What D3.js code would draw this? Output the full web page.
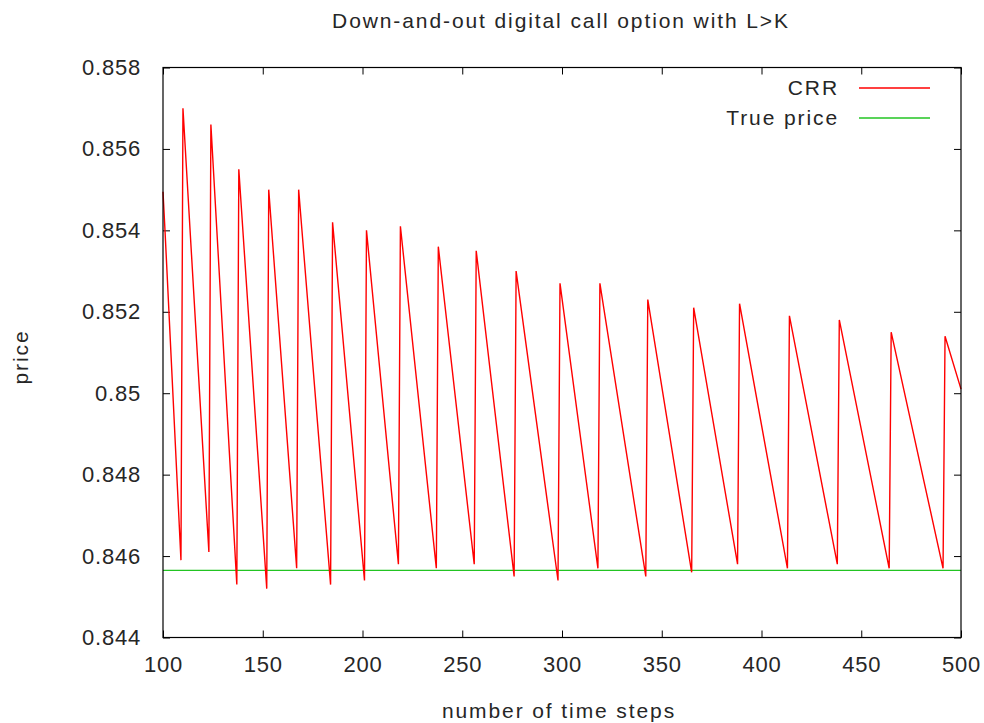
<!DOCTYPE html>
<html lang="en">
<head>
<meta charset="UTF-8">
<title>Down-and-out digital call option with L>K</title>
<script src="https://cdn.jsdelivr.net/npm/d3@7"></script>
<style>
  body { margin: 0; background: #fff; font-family: "Liberation Sans", Arial, sans-serif; }
  .axis text { font-size: 22px; fill: #262626; font-family: "Liberation Sans", Arial, sans-serif; letter-spacing: 0.8px; }
  .axis line { stroke: #000; }
  .label { font-size: 21px; fill: #262626; letter-spacing: 1.9px; }
</style>
</head>
<body>
<div id="chart"></div>
<script>
// x ticks and y ticks
const xTicks = [100, 150, 200, 250, 300, 350, 400, 450, 500];
const yTicks = [0.844, 0.846, 0.848, 0.85, 0.852, 0.854, 0.856, 0.858];

// CRR series: start, each tooth (trough step, trough price, peak price), end
const startSteps = [100, 101];
const startPrices = [0.85495, 0.8540];
const troughSteps = [109, 123, 137, 152, 167, 184, 201, 218, 237, 256,
                     276, 298, 318, 342, 365, 388, 413, 438, 464, 491];
const troughPrices = [0.8459, 0.8461, 0.8453, 0.8452, 0.8457, 0.8453, 0.8454, 0.8458, 0.8457, 0.8458,
                      0.8455, 0.8454, 0.8457, 0.8455, 0.8456, 0.8458, 0.8457, 0.8458, 0.8457, 0.8457];
const peakPrices = [0.8570, 0.8566, 0.8555, 0.8550, 0.8550, 0.8542, 0.8540, 0.8541, 0.8536, 0.8535,
                    0.8530, 0.8527, 0.8527, 0.8523, 0.8521, 0.8522, 0.8519, 0.8518, 0.8515, 0.8514];
const endStep = 500;
const endPrice = 0.8501;

// true price
const trueSteps = [100, 500];
const truePrice = 0.84565;

const W = 984, H = 723;
const margin = {top: 67.5, right: 23, bottom: 85.5, left: 163};
const width = W - margin.left - margin.right;
const height = H - margin.top - margin.bottom;

const svg = d3.select("#chart").append("svg")
    .attr("width", W)
    .attr("height", H);

const g = svg.append("g")
    .attr("transform", "translate(" + margin.left + "," + margin.top + ")");

const x = d3.scaleLinear().domain([100, 500]).range([0, width]);
const y = d3.scaleLinear().domain([0.844, 0.858]).range([height, 0]);

// build CRR points
let crr = [];
startSteps.forEach((n, i) => crr.push({n: n, v: startPrices[i]}));
troughSteps.forEach((n, i) => {
    crr.push({n: n, v: troughPrices[i]});
    crr.push({n: n + 1, v: peakPrices[i]});
});
crr.push({n: endStep, v: endPrice});

const trueLine = trueSteps.map(n => ({n: n, v: truePrice}));

// axes, inward ticks, mirrored on top/right
g.append("g").attr("class", "axis")
    .attr("transform", "translate(0," + height + ")")
    .call(d3.axisBottom(x).tickValues(xTicks).tickSize(-7).tickSizeOuter(0).tickPadding(19))
    .call(a => a.select(".domain").remove());

g.append("g").attr("class", "axis")
    .call(d3.axisLeft(y).tickValues(yTicks).tickFormat(d3.format("")).tickSize(-7).tickSizeOuter(0).tickPadding(22))
    .call(a => a.select(".domain").remove());

g.append("g").attr("class", "axis")
    .call(d3.axisTop(x).tickValues(xTicks).tickSize(-7).tickSizeOuter(0).tickFormat(""))
    .call(a => a.select(".domain").remove());

g.append("g").attr("class", "axis")
    .attr("transform", "translate(" + width + ",0)")
    .call(d3.axisRight(y).tickValues(yTicks).tickSize(-7).tickSizeOuter(0).tickFormat(""))
    .call(a => a.select(".domain").remove());

const line = d3.line().x(d => x(d.n)).y(d => y(d.v));

g.append("path")
    .datum(trueLine)
    .attr("fill", "none")
    .attr("stroke", "#22c422")
    .attr("stroke-width", 1.3)
    .attr("d", line);

g.append("path")
    .datum(crr)
    .attr("fill", "none")
    .attr("stroke", "#ff0000")
    .attr("stroke-width", 1.4)
    .attr("d", line);

// frame
g.append("rect")
    .attr("width", width)
    .attr("height", height)
    .attr("fill", "none")
    .attr("stroke", "#000")
    .attr("stroke-width", 1.2);

// legend
const legend = [
    {name: "CRR", color: "#ff0000"},
    {name: "True price", color: "#22c422"}
];
const lg = svg.selectAll(".legend")
    .data(legend)
    .enter().append("g")
    .attr("class", "legend")
    .attr("transform", (d, i) => "translate(0," + (88 + i * 30) + ")");
lg.append("text")
    .attr("class", "label")
    .attr("x", 839)
    .attr("dy", "0.35em")
    .attr("text-anchor", "end")
    .text(d => d.name);
lg.append("line")
    .attr("x1", 859).attr("x2", 930)
    .attr("stroke", d => d.color)
    .attr("stroke-width", 1.3);

// titles
svg.append("text")
    .attr("class", "label")
    .attr("x", 561).attr("y", 28)
    .attr("text-anchor", "middle")
    .text("Down-and-out digital call option with L>K");

svg.append("text")
    .attr("class", "label")
    .attr("x", 559).attr("y", 718)
    .attr("text-anchor", "middle")
    .text("number of time steps");

svg.append("text")
    .attr("class", "label")
    .attr("transform", "translate(28,357) rotate(-90)")
    .attr("text-anchor", "middle")
    .text("price");
</script>
</body>
</html>
